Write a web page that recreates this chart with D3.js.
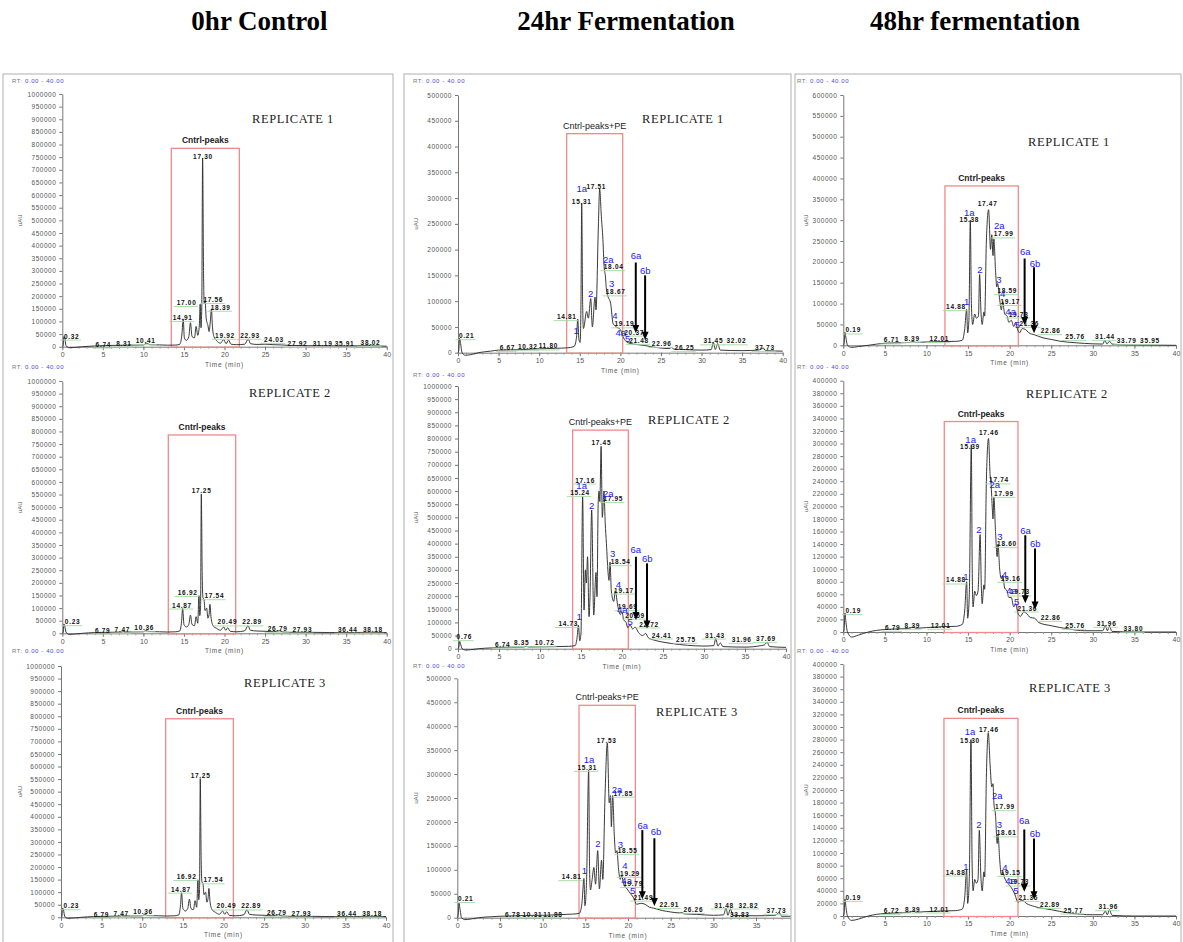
<!DOCTYPE html>
<html><head><meta charset="utf-8">
<script src="https://cdn.jsdelivr.net/npm/d3@7"></script>
<style>body{margin:0;background:#fff}svg{display:block}</style>
</head><body>
<svg id="chart" width="1183" height="942"></svg>
<script>
// ---------------- DATA ----------------
const columnTitles = ["0hr Control", "24hr Fermentation", "48hr fermentation"];
const replicateLabels = ["REPLICATE 1", "REPLICATE 2", "REPLICATE 3"];
const boxLabels = ["Cntrl-peaks", "Cntrl-peaks+PE", "Cntrl-peaks"];
const xTickValues = [0, 5, 10, 15, 20, 25, 30, 35, 40];
const yMaxes = [1000000, 1000000, 1000000, 500000, 1000000, 500000, 600000, 400000, 400000];
const yTickSteps = [50000, 50000, 50000, 50000, 50000, 50000, 50000, 20000, 20000];

// traces: [time (min), intensity (uAU)]
const ctrlR1 = [[0,0],[0.1,3000],[0.2,40000],[0.3,35000],[0.45,5000],[0.8,-4000],[1.5,-3000],[2.5,0],[4,3000],[6,5000],[8,6000],[8.3,9000],[8.6,6000],[10,7000],[10.4,14000],[10.8,8000],[12,7000],[13,6000],[14,6500],[14.5,10000],[14.75,50000],[14.91,110000],[15.05,35000],[15.3,25000],[15.6,40000],[15.8,95000],[16.0,40000],[16.3,35000],[16.5,80000],[16.7,45000],[16.9,85000],[17.0,168000],[17.1,75000],[17.2,160000],[17.3,745000],[17.42,280000],[17.5,170000],[17.6,182000],[17.75,110000],[17.95,85000],[18.1,60000],[18.25,100000],[18.39,150000],[18.5,85000],[18.7,40000],[19,25000],[19.5,14000],[19.9,28000],[20.2,12000],[20.5,26000],[20.8,10000],[21.5,8000],[22.5,10000],[22.93,30000],[23.2,12000],[24,9000],[25,10000],[26,8000],[27,7000],[28,5000],[30,4000],[32,4000],[35,3000],[37.8,4000],[38.1,7000],[38.4,3000],[40,2000]];
// replicates 2 and 3 of the control show the same trace
const ctrlR2 = [[0,0],[0.1,3000],[0.2,37000],[0.3,30000],[0.45,5000],[0.8,-4000],[1.5,-3000],[2.5,0],[4,3000],[6,4000],[7.4,5000],[7.5,8000],[7.6,5000],[10,6000],[10.3,11000],[10.7,7000],[12,6000],[13,5000],[14,6000],[14.5,10000],[14.7,45000],[14.84,98000],[15.0,35000],[15.3,25000],[15.6,35000],[15.8,72000],[16.0,35000],[16.3,30000],[16.5,66000],[16.7,40000],[16.85,149000],[16.95,70000],[17.05,110000],[17.14,552000],[17.25,230000],[17.35,140000],[17.47,135000],[17.6,90000],[17.8,100000],[17.95,60000],[18.1,75000],[18.2,115000],[18.35,60000],[18.6,30000],[19,20000],[19.5,12000],[19.9,25000],[20.15,12000],[20.4,22000],[20.7,8000],[21.5,6000],[22.5,10000],[22.89,30000],[23.2,12000],[24,9000],[25,8000],[26,6000],[26.8,10000],[27.2,5000],[28,4000],[30,4000],[33,3000],[36,3000],[38,4000],[40,3000]];
const ctrlR3 = ctrlR2;
const fermR1 = [[0,0],[0.1,5000],[0.2,28000],[0.3,20000],[0.5,0],[0.9,-5000],[1.5,-4000],[2.5,0],[4,3000],[5,5000],[6.5,5500],[8,6000],[9,7000],[10,7500],[12,8500],[13.5,9500],[14.3,12000],[14.6,30000],[14.75,65000],[14.9,25000],[15.05,20000],[15.15,100000],[15.24,290000],[15.35,100000],[15.45,47000],[15.85,80000],[16.06,67000],[16.35,105000],[16.55,50000],[16.88,108000],[17.0,83000],[17.3,250000],[17.45,318000],[17.66,264000],[17.85,220000],[18.0,167000],[18.15,150000],[18.3,120000],[18.5,108000],[18.8,96000],[19.1,57000],[19.5,50000],[20.0,45000],[20.3,32000],[20.7,22000],[21.2,18000],[22,16000],[23,14000],[24,11000],[25,9000],[26,8000],[26.3,10000],[26.6,7000],[28,6000],[30,5000],[31.2,6000],[31.45,20000],[31.7,6000],[32.0,18000],[32.3,5000],[35,4000],[37,5000],[37.6,9000],[37.9,4000],[40,3000]];
const fermR2 = [[0,0],[0.1,5000],[0.2,28000],[0.3,20000],[0.5,0],[0.9,-5000],[1.5,-4000],[2.5,0],[4,3000],[5,5000],[6.7,6000],[8,6500],[8.35,9000],[8.6,6500],[10,7000],[12,8000],[13.5,9000],[14.3,12000],[14.55,50000],[14.68,90000],[14.85,30000],[15.0,60000],[15.2,580000],[15.37,147000],[15.53,300000],[15.65,250000],[15.8,350000],[15.98,122000],[16.1,200000],[16.3,528000],[16.55,128000],[16.83,290000],[16.95,198000],[17.1,560000],[17.2,600000],[17.3,560000],[17.45,770000],[17.6,500000],[17.8,600000],[17.95,480000],[18.1,400000],[18.3,290000],[18.42,260000],[18.54,330000],[18.7,220000],[19.0,180000],[19.17,220000],[19.5,160000],[19.8,130000],[20.0,140000],[20.2,110000],[20.5,100000],[20.7,80000],[21.0,90000],[21.3,75000],[21.6,82000],[22.0,62000],[22.5,50000],[22.9,58000],[23.2,42000],[24,32000],[25,25000],[26,20000],[28,13000],[30,10000],[31.2,12000],[31.43,38000],[31.7,10000],[32.0,22000],[32.3,8000],[35,6000],[37,12000],[37.4,15000],[37.69,25000],[38.0,8000],[40,5000]];
const fermR3 = [[0,0],[0.1,5000],[0.2,30000],[0.3,20000],[0.5,0],[0.9,-4000],[1.5,-3000],[2.5,0],[4,2000],[5,3000],[7,4000],[9,5000],[10,5000],[12,6500],[13.5,7500],[14.3,9000],[14.6,30000],[14.84,82000],[14.95,25000],[15.15,80000],[15.39,308000],[15.5,100000],[15.6,58000],[15.8,80000],[16.0,105000],[16.2,70000],[16.45,140000],[16.65,60000],[16.9,120000],[17.05,80000],[17.3,250000],[17.58,365000],[17.8,240000],[17.95,255000],[18.05,190000],[18.2,255000],[18.4,170000],[18.55,135000],[18.7,140000],[18.9,100000],[19.1,80000],[19.25,88000],[19.5,70000],[19.9,60000],[20.3,50000],[20.7,40000],[21.0,28000],[21.5,30000],[22.0,28000],[22.5,22000],[23,20000],[24,15000],[25,12000],[26,10000],[26.3,11000],[26.6,8000],[28,7000],[30,5000],[31.2,6000],[31.48,20000],[31.7,5000],[32.0,18000],[32.3,5000],[35,4000],[37.3,5000],[37.5,8000],[37.7,11000],[38.0,3000],[40,3000]];
const f48R1 = [[0,0],[0.1,5000],[0.2,31000],[0.3,20000],[0.5,0],[1.0,-5000],[1.8,-3000],[3,0],[5,5000],[6.7,6000],[8,7000],[8.4,9000],[8.7,7000],[10,8000],[12,9000],[13.5,9500],[14.3,12000],[14.6,40000],[14.83,86000],[14.95,30000],[15.1,60000],[15.27,300000],[15.4,100000],[15.55,50000],[15.8,75000],[16.0,65000],[16.25,70000],[16.39,170000],[16.55,80000],[16.7,50000],[16.9,80000],[17.0,70000],[17.2,250000],[17.47,325000],[17.7,230000],[17.85,265000],[18.0,215000],[18.1,255000],[18.3,180000],[18.45,140000],[18.55,148000],[18.8,110000],[19.0,85000],[19.17,105000],[19.4,75000],[19.7,70000],[19.9,55000],[20.2,60000],[20.5,45000],[20.7,55000],[21.0,35000],[21.2,30000],[21.5,40000],[21.9,38000],[22.3,30000],[23,25000],[24,18000],[25,14000],[26,10000],[28,6000],[30,3500],[31.2,3000],[31.44,12000],[31.7,3000],[32,10000],[32.3,3000],[34,1000],[36,500],[40,0]];
const f48R2 = [[0,0],[0.1,5000],[0.2,30000],[0.3,18000],[0.5,0],[1.0,-8000],[1.8,-5000],[3,0],[5,4000],[6.8,5000],[8,6000],[8.4,8000],[8.7,6000],[10,7000],[12,8500],[13.5,9000],[14.3,12000],[14.6,35000],[14.83,80000],[14.95,22000],[15.15,60000],[15.39,298000],[15.5,100000],[15.6,40000],[15.8,65000],[16.0,58000],[16.2,65000],[16.45,155000],[16.6,70000],[16.7,45000],[16.9,75000],[17.0,68000],[17.2,240000],[17.46,308000],[17.65,250000],[17.75,240000],[17.9,200000],[18.0,180000],[18.1,215000],[18.3,160000],[18.5,120000],[18.6,140000],[18.8,100000],[19.0,85000],[19.16,90000],[19.4,70000],[19.7,65000],[19.9,55000],[20.2,55000],[20.5,40000],[20.7,45000],[21.0,30000],[21.3,25000],[21.7,32000],[22.0,30000],[22.5,23000],[23,22000],[23.5,15000],[25,10000],[27,5000],[29,2000],[31.2,2000],[31.5,10000],[31.75,2000],[32.0,9000],[32.3,1000],[35,0],[40,0]];
const f48R3 = [[0,0],[0.1,5000],[0.2,27000],[0.3,16000],[0.5,0],[1.0,-7000],[1.8,-5000],[3,0],[5,4000],[6.8,5000],[8,6000],[8.4,8000],[8.7,6000],[10,7000],[12,8000],[13.5,8500],[14.3,11000],[14.6,30000],[14.83,74000],[14.95,20000],[15.15,60000],[15.35,280000],[15.48,90000],[15.6,40000],[15.8,58000],[16.0,52000],[16.2,58000],[16.35,136000],[16.55,60000],[16.7,40000],[16.9,70000],[17.0,62000],[17.2,220000],[17.43,291000],[17.65,240000],[17.85,205000],[18.0,210000],[18.1,180000],[18.3,160000],[18.5,115000],[18.6,130000],[18.8,90000],[19.0,65000],[19.16,70000],[19.4,60000],[19.9,50000],[20.2,45000],[20.6,35000],[21.0,22000],[21.5,25000],[22.0,20000],[23,15000],[25,10000],[27,5000],[30,2000],[31.2,2000],[31.5,8000],[31.75,2000],[32.0,10000],[32.3,1000],[35,0],[40,0]];

// retention-time labels: [time, intensity, text]
const ctrlR1Labels = [[1.15,42000,"0.32"],[5.06,10500,"6.74"],[7.6,14500,"8.31"],[10.28,23700,"10.41"],[14.84,116000,"14.91"],[15.33,175000,"17.00"],[17.35,752000,"17.30"],[18.62,187000,"17.56"],[19.53,156000,"18.39"],[20.06,45000,"19.92"],[23.15,45000,"22.93"],[26.1,29000,"24.03"],[29.0,13000,"27.92"],[32.1,13000,"31.19"],[34.8,13000,"35.91"],[38.0,16000,"38.02"]];
const ctrlR2Labels = [[1.27,46000,"0.23"],[4.97,13000,"6.79"],[7.4,16000,"7.47"],[10.1,22000,"10.36"],[14.76,112000,"14.87"],[15.46,162000,"16.92"],[17.18,565000,"17.25"],[18.75,149000,"17.54"],[20.35,45000,"20.49"],[23.4,45000,"22.89"],[26.56,18000,"26.79"],[29.6,16000,"27.93"],[35.2,16000,"36.44"],[38.3,16000,"38.18"]];
const ctrlR3Labels = ctrlR2Labels;
const fermR1Labels = [[1.07,33000,"0.21"],[6.08,10300,"6.67"],[8.6,11600,"10.32"],[11.13,13000,"11.80"],[13.4,70000,"14.81"],[15.24,294000,"15.31"],[17.04,323000,"17.51"],[19.18,167000,"18.04"],[19.42,118000,"18.67"],[20.5,56000,"19.19"],[21.7,40000,"20.37"],[22.3,24000,"21.48"],[25.1,18000,"22.96"],[27.9,9700,"26.25"],[31.46,23000,"31.45"],[34.3,23000,"32.02"],[37.8,10300,"37.73"]];
const fermR2Labels = [[0.77,45700,"0.76"],[5.45,17800,"6.74"],[7.76,22800,"8.35"],[10.57,22800,"10.72"],[13.45,96000,"14.73"],[14.88,595000,"15.24"],[15.5,642000,"17.16"],[17.48,784000,"17.45"],[18.94,572000,"17.95"],[19.84,331000,"18.54"],[20.24,223000,"19.17"],[20.69,160000,"19.69"],[21.59,128000,"20.59"],[23.3,94000,"22.72"],[24.84,52000,"24.41"],[27.8,35500,"25.75"],[31.34,52000,"31.43"],[34.6,35500,"31.96"],[37.56,39300,"37.69"]];
const fermR3Labels = [[0.98,40000,"0.21"],[6.5,7700,"6.78"],[8.8,7700,"10.31"],[11.2,7700,"11.88"],[13.4,85600,"14.81"],[15.23,314000,"15.31"],[17.5,371000,"17.53"],[19.45,260000,"17.85"],[19.96,140000,"18.55"],[20.23,92600,"19.29"],[20.6,71700,"19.79"],[21.8,43000,"21.49"],[24.84,27800,"22.91"],[27.66,17400,"26.26"],[31.25,26500,"31.48"],[34.1,26500,"32.82"],[33.1,7700,"33.83"],[37.4,14600,"37.73"]];
const f48R1Labels = [[1.2,36700,"0.19"],[5.8,12800,"6.71"],[8.26,16000,"8.39"],[11.54,16000,"12.01"],[13.55,92700,"14.88"],[15.15,302000,"15.38"],[17.35,339000,"17.47"],[19.28,267000,"17.99"],[19.72,131000,"18.59"],[20.08,105000,"19.17"],[21.08,75000,"19.73"],[22.36,52700,"21.36"],[24.93,35000,"22.86"],[27.86,20800,"25.76"],[31.46,20800,"31.44"],[34.07,11200,"33.79"],[36.87,11200,"35.95"]];
const f48R2Labels = [[1.2,34000,"0.19"],[5.93,7400,"6.79"],[8.3,10600,"8.39"],[11.7,10600,"12.01"],[13.55,82800,"14.88"],[15.23,296000,"15.39"],[17.5,318000,"17.46"],[18.72,242000,"17.74"],[19.32,220700,"17.99"],[19.68,141000,"18.60"],[20.12,85400,"19.16"],[21.24,63700,"19.73"],[22.12,38200,"21.36"],[24.93,23300,"22.86"],[27.86,10600,"25.76"],[31.66,13800,"31.96"],[34.87,5300,"33.80"]];
const f48R3Labels = [[1.2,29600,"0.19"],[5.8,8500,"6.72"],[8.34,11100,"8.39"],[11.54,11100,"12.01"],[13.5,69800,"14.88"],[15.23,279000,"15.30"],[17.5,296000,"17.46"],[19.44,173500,"17.99"],[19.64,132000,"18.61"],[20.12,69300,"19.15"],[21.16,54000,"19.73"],[22.24,29600,"21.36"],[24.85,18500,"22.89"],[27.66,9500,"25.77"],[31.86,14800,"31.96"]];

// numbered peak IDs (blue): [time, intensity, text]
const fermR1Peaks = [[15.24,319000,"1a"],[14.54,44000,"1"],[16.35,114000,"2"],[18.52,181000,"2a"],[18.93,134000,"3"],[19.34,73000,"4"],[20.04,40000,"4a"],[20.9,27000,"5"],[21.93,188000,"6a"],[23.08,159000,"6b"]];
const fermR2Peaks = [[15.08,623000,"1a"],[14.76,124000,"1"],[16.3,547000,"2"],[18.33,591000,"2a"],[18.86,363000,"3"],[19.55,246000,"4"],[20.04,150000,"4a"],[20.98,103000,"5"],[21.67,376000,"6a"],[23.09,344000,"6b"]];
const fermR3Peaks = [[15.43,331000,"1a"],[14.88,99600,"1"],[16.48,154000,"2"],[18.71,267000,"2a"],[19.1,152000,"3"],[19.65,108600,"4"],[19.84,77000,"4a"],[20.55,57800,"5"],[21.72,193600,"6a"],[23.28,179700,"6b"]];
const f48R1Peaks = [[15.15,318000,"1a"],[14.83,104600,"1"],[16.43,182000,"2"],[18.76,286000,"2a"],[18.72,158000,"3"],[19.16,123000,"4"],[20.12,80700,"4a"],[20.92,48700,"5"],[21.88,224000,"6a"],[23.05,195000,"6b"]];
const f48R2Peaks = [[15.31,307000,"1a"],[14.75,88000,"1"],[16.31,163000,"2"],[18.2,234000,"2a"],[18.84,152000,"3"],[19.36,92300,"4"],[20.24,66800,"4a"],[20.84,48300,"5"],[21.92,161000,"6a"],[23.09,141000,"6b"]];
const f48R3Peaks = [[15.23,293600,"1a"],[14.75,78300,"1"],[16.31,145500,"2"],[18.52,192000,"2a"],[18.76,145500,"3"],[19.44,77200,"4"],[20.12,56000,"4a"],[20.76,39700,"5"],[21.76,151000,"6a"],[23.05,131000,"6b"]];

// arrows: [time, top intensity, tip intensity]
const fermR1Arrows = [[21.9,175000,38000],[23.05,150000,25000]];
const fermR2Arrows = [[21.7,350000,109000],[23.05,325000,77000]];
const fermR3Arrows = [[21.68,183000,38300],[23.09,166000,24400]];
const f48R1Arrows = [[21.8,208000,48700],[22.93,187000,28800]];
const f48R2Arrows = [[21.88,154000,45600],[23.05,133000,36000]];
const f48R3Arrows = [[21.76,137500,38600],[22.93,123000,26500]];

// highlighted region: [start time, end time, top intensity]
const ctrlR1Box = [13.44, 21.83, 785000];
const ctrlR2Box = [13.07, 21.38, 786000];
const ctrlR3Box = [12.88, 21.21, 790000];
const fermR1Box = [13.39, 20.29, 425000];
const fermR2Box = [13.98, 20.77, 832000];
const fermR3Box = [14.26, 20.86, 443600];
const f48R1Box = [12.22, 21.04, 382000];
const f48R2Box = [12.14, 21.0, 335000];
const f48R3Box = [12.1, 21.0, 313700];

const traces = [ctrlR1, ctrlR2, ctrlR3, fermR1, fermR2, fermR3, f48R1, f48R2, f48R3];
const rtLabels = [ctrlR1Labels, ctrlR2Labels, ctrlR3Labels, fermR1Labels, fermR2Labels, fermR3Labels, f48R1Labels, f48R2Labels, f48R3Labels];
const peakIds = [[], [], [], fermR1Peaks, fermR2Peaks, fermR3Peaks, f48R1Peaks, f48R2Peaks, f48R3Peaks];
const arrows = [[], [], [], fermR1Arrows, fermR2Arrows, fermR3Arrows, f48R1Arrows, f48R2Arrows, f48R3Arrows];
const boxes = [ctrlR1Box, ctrlR2Box, ctrlR3Box, fermR1Box, fermR2Box, fermR3Box, f48R1Box, f48R2Box, f48R3Box];

// ---------------- LAYOUT ----------------
const columns = [{x0:3, x1:393, titleX:259.5, rtX:12, uX:22},
                 {x0:404, x1:791, titleX:626, rtX:413, uX:418},
                 {x0:795, x1:1181, titleX:975, rtX:797, uX:808}];
const layout = [
  {col:0,row:0,x0:62.3,x40:386.7,yTop:94,yZero:346.7,rtY:83,rep:[293,123]},
  {col:0,row:1,x0:62.3,x40:386.7,yTop:381,yZero:633.3,rtY:369,rep:[290,397]},
  {col:0,row:2,x0:61,x40:386,yTop:666,yZero:917.3,rtY:653,rep:[285,687]},
  {col:1,row:0,x0:458,x40:782.7,yTop:95,yZero:352.7,rtY:83,rep:[683,123]},
  {col:1,row:1,x0:458,x40:786,yTop:386,yZero:648.7,rtY:377,rep:[689,424]},
  {col:1,row:2,x0:457.3,x40:798.7,yTop:678.3,yZero:917.7,rtY:668,rep:[697,716]},
  {col:2,row:0,x0:843.3,x40:1176,yTop:95,yZero:345.3,rtY:83,rep:[1069,146]},
  {col:2,row:1,x0:843.3,x40:1176,yTop:380.7,yZero:632,rtY:369,rep:[1067,398]},
  {col:2,row:2,x0:843.3,x40:1176,yTop:664,yZero:916,rtY:653,rep:[1070,692]}
];

const SANS = "'Liberation Sans', Arial, sans-serif";
const SERIF = "'Liberation Serif', 'Times New Roman', serif";
const svg = d3.select("#chart");
const defs = svg.append("defs");

// titles
svg.selectAll("text.title").data(columnTitles).join("text")
  .attr("class","title")
  .attr("x",(d,i)=>columns[i].titleX).attr("y",30)
  .attr("text-anchor","middle")
  .style("font-family",SERIF).style("font-weight","bold").style("font-size","27px")
  .text(d=>d);

// column frames + clips
columns.forEach((c,i)=>{
  svg.append("rect").attr("x",c.x0).attr("y",74).attr("width",c.x1-c.x0).attr("height",900)
    .attr("fill","none").attr("stroke","#b0b0b0").attr("stroke-width",1);
  defs.append("clipPath").attr("id","clip"+i).append("rect")
    .attr("x",c.x0+0.5).attr("y",75).attr("width",c.x1-c.x0-1).attr("height",880);
});

layout.forEach((p,i)=>{
  const col = columns[p.col];
  const g = svg.append("g").attr("clip-path",`url(#clip${p.col})`);
  const yMax = yMaxes[i];
  const x = d3.scaleLinear().domain([0,40]).range([p.x0,p.x40]);
  const y = d3.scaleLinear().domain([0,yMax]).range([p.yZero,p.yTop]);

  // RT label
  const rt = g.append("text").attr("x",col.rtX).attr("y",p.rtY)
    .style("font-family",SANS).style("font-size","6px").style("letter-spacing","0.6px");
  rt.append("tspan").attr("fill","#777").text("RT: ");
  rt.append("tspan").attr("fill","#4a4ad0").text("0.00 - 40.00");

  // y axis
  const yAxis = d3.axisLeft(y).tickValues(d3.range(0,yMax+1,yTickSteps[i]))
    .tickSize(3).tickSizeOuter(0).tickPadding(3).tickFormat(d3.format("d"));
  const ya = g.append("g").attr("transform",`translate(${p.x0},0)`).call(yAxis);
  ya.select(".domain").attr("stroke","#777");
  ya.selectAll(".tick line").attr("stroke","#777");
  ya.selectAll(".tick text").attr("fill","#555")
    .style("font-family",SANS).style("font-size","6.5px").style("letter-spacing","0.5px");

  // x axis
  const xMinor = d3.axisBottom(x).tickValues(d3.range(0,41,1)).tickSize(2).tickSizeOuter(0).tickFormat("");
  const xm = g.append("g").attr("transform",`translate(0,${p.yZero})`).call(xMinor);
  xm.select(".domain").attr("stroke","#777");
  xm.selectAll(".tick line").attr("stroke","#999");
  const xAxis = d3.axisBottom(x).tickValues(xTickValues).tickSize(3.5).tickSizeOuter(0).tickPadding(2);
  const xa = g.append("g").attr("transform",`translate(0,${p.yZero})`).call(xAxis);
  xa.select(".domain").remove();
  xa.selectAll(".tick line").attr("stroke","#777");
  xa.selectAll(".tick text").attr("fill","#555")
    .style("font-family",SANS).style("font-size","7px");

  g.append("text").attr("x",(p.x0+x(40))/2).attr("y",p.yZero+20)
    .attr("text-anchor","middle").attr("fill","#555")
    .style("font-family",SANS).style("font-size","6.5px").style("letter-spacing","0.8px")
    .text("Time (min)");
  g.append("text").attr("transform",`translate(${col.uX},${(p.yTop+p.yZero)/2}) rotate(-90)`)
    .attr("text-anchor","middle").attr("fill","#555")
    .style("font-family",SANS).style("font-size","6px").text("uAU");

  // highlight box
  const b = boxes[i];
  g.append("rect").attr("x",x(b[0])).attr("y",y(b[2]))
    .attr("width",x(b[1])-x(b[0])).attr("height",p.yZero+0.5-y(b[2]))
    .attr("fill","none").attr("stroke","#f08a8a").attr("stroke-width",1.3);
  g.append("text").attr("x",(x(b[0])+x(b[1]))/2).attr("y",y(b[2])-5)
    .attr("text-anchor","middle").attr("fill","#222")
    .style("font-family",SANS).style("font-size",p.col===1?"9px":"8.5px")
    .style("font-weight",p.col===1?"normal":"bold")
    .text(boxLabels[p.col]);

  // trace
  const line = d3.line().x(d=>x(d[0])).y(d=>y(d[1])).curve(d3.curveMonotoneX);
  g.append("path").datum(traces[i]).attr("d",line)
    .attr("fill","none").attr("stroke","#2e2e2e").attr("stroke-width",0.95);

  // retention-time labels with green baseline marks
  const labs = rtLabels[i];
  const maxV = d3.max(labs,d=>d[1]);
  labs.forEach(d=>{
    const cx = x(d[0]), cy = y(d[1]);
    const w = d[2].length*4.1;
    if (d[1] < 0.85*maxV) {
      g.append("line").attr("x1",cx-w/2-3).attr("x2",cx+w/2+1)
        .attr("y1",cy+4).attr("y2",cy+4).attr("stroke","#a2d9a2").attr("stroke-width",0.9);
    }
    g.append("text").attr("x",cx).attr("y",cy+2.5).attr("text-anchor","middle")
      .attr("fill","#111").style("font-family",SANS).style("font-size","6.5px")
      .style("font-weight","bold").style("letter-spacing","0.7px").text(d[2]);
  });

  // arrows
  arrows[i].forEach(a=>{
    const ax = x(a[0]), yt = y(a[1]), yb = y(a[2]);
    g.append("line").attr("x1",ax).attr("x2",ax).attr("y1",yt).attr("y2",yb-5)
      .attr("stroke","#000").attr("stroke-width",2);
    g.append("path").attr("d",`M${ax-3.5},${yb-8}L${ax+3.5},${yb-8}L${ax},${yb}Z`).attr("fill","#000");
  });

  // blue peak ids
  peakIds[i].forEach(d=>{
    g.append("text").attr("x",x(d[0])).attr("y",y(d[1])+3.5).attr("text-anchor","middle")
      .attr("fill","#2020f5").style("font-family",SANS).style("font-size","9.5px").text(d[2]);
  });

  // replicate label
  g.append("text").attr("x",p.rep[0]).attr("y",p.rep[1]).attr("text-anchor","middle")
    .attr("fill","#222").style("font-family",SERIF).style("font-size","12.5px")
    .style("letter-spacing","0.6px").text(replicateLabels[p.row]);
});
</script>
</body></html>
